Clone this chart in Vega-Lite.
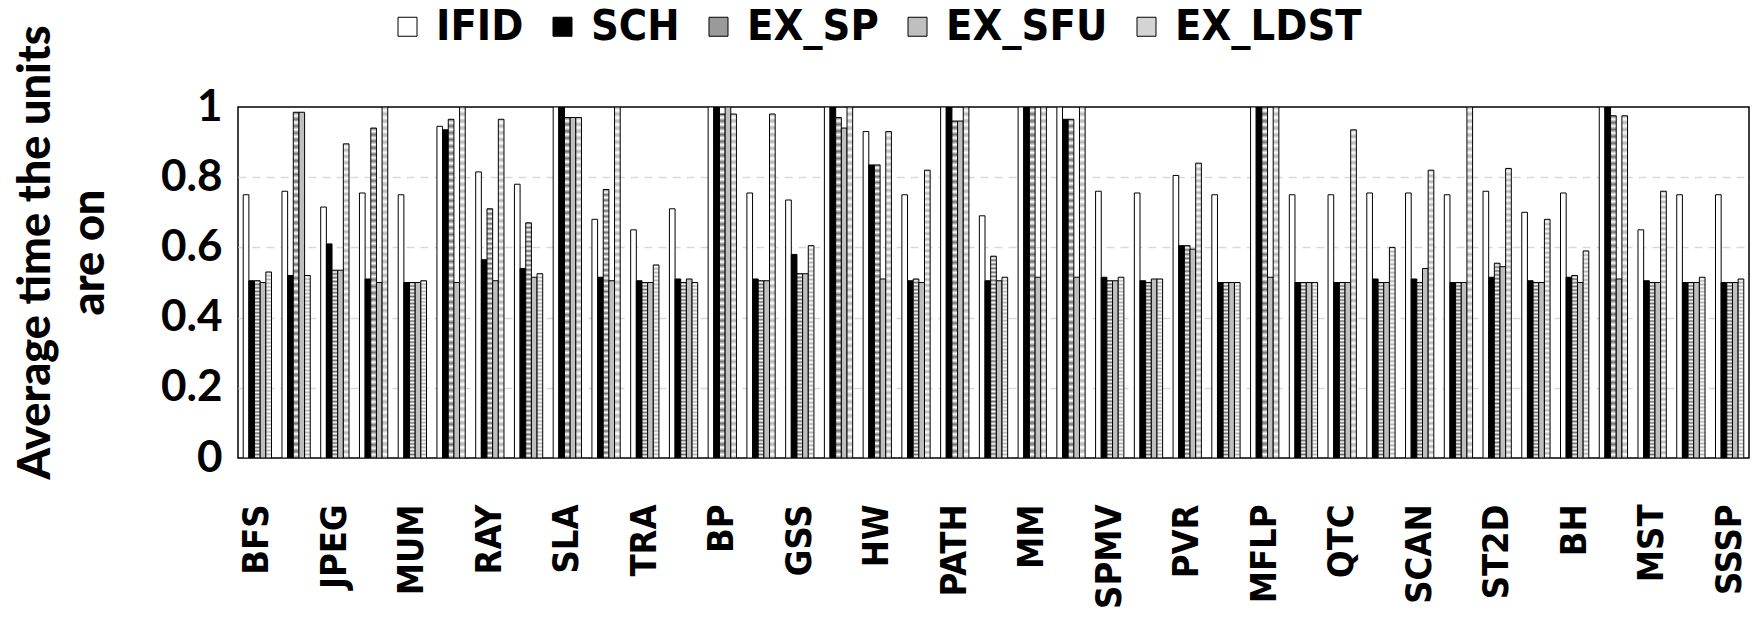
{
  "$schema": "https://vega.github.io/schema/vega-lite/v6.json",
  "width": 1511,
  "height": 351,
  "autosize": {"type": "none"},
  "padding": {"left": 238, "top": 107, "right": 12, "bottom": 162},
  "background": "white",
  "config": {
    "view": {"stroke": "black", "strokeWidth": 1.5},
    "axis": {"labelColor": "black", "titleColor": "black"}
  },
  "data": {"values": [
    {"b":"BFS","u":"IFID","v":0.75},{"b":"BFS","u":"SCH","v":0.505},{"b":"BFS","u":"EX_SP","v":0.505},{"b":"BFS","u":"EX_SFU","v":0.5},{"b":"BFS","u":"EX_LDST","v":0.53},
    {"b":"u1","u":"IFID","v":0.76},{"b":"u1","u":"SCH","v":0.52},{"b":"u1","u":"EX_SP","v":0.985},{"b":"u1","u":"EX_SFU","v":0.985},{"b":"u1","u":"EX_LDST","v":0.52},
    {"b":"JPEG","u":"IFID","v":0.715},{"b":"JPEG","u":"SCH","v":0.61},{"b":"JPEG","u":"EX_SP","v":0.535},{"b":"JPEG","u":"EX_SFU","v":0.535},{"b":"JPEG","u":"EX_LDST","v":0.895},
    {"b":"u2","u":"IFID","v":0.755},{"b":"u2","u":"SCH","v":0.51},{"b":"u2","u":"EX_SP","v":0.94},{"b":"u2","u":"EX_SFU","v":0.5},{"b":"u2","u":"EX_LDST","v":1.0},
    {"b":"MUM","u":"IFID","v":0.75},{"b":"MUM","u":"SCH","v":0.5},{"b":"MUM","u":"EX_SP","v":0.5},{"b":"MUM","u":"EX_SFU","v":0.5},{"b":"MUM","u":"EX_LDST","v":0.505},
    {"b":"u3","u":"IFID","v":0.945},{"b":"u3","u":"SCH","v":0.935},{"b":"u3","u":"EX_SP","v":0.965},{"b":"u3","u":"EX_SFU","v":0.5},{"b":"u3","u":"EX_LDST","v":1.0},
    {"b":"RAY","u":"IFID","v":0.815},{"b":"RAY","u":"SCH","v":0.565},{"b":"RAY","u":"EX_SP","v":0.71},{"b":"RAY","u":"EX_SFU","v":0.505},{"b":"RAY","u":"EX_LDST","v":0.965},
    {"b":"u4","u":"IFID","v":0.78},{"b":"u4","u":"SCH","v":0.54},{"b":"u4","u":"EX_SP","v":0.67},{"b":"u4","u":"EX_SFU","v":0.515},{"b":"u4","u":"EX_LDST","v":0.525},
    {"b":"SLA","u":"IFID","v":1.0},{"b":"SLA","u":"SCH","v":1.0},{"b":"SLA","u":"EX_SP","v":0.97},{"b":"SLA","u":"EX_SFU","v":0.97},{"b":"SLA","u":"EX_LDST","v":0.97},
    {"b":"u5","u":"IFID","v":0.68},{"b":"u5","u":"SCH","v":0.515},{"b":"u5","u":"EX_SP","v":0.765},{"b":"u5","u":"EX_SFU","v":0.505},{"b":"u5","u":"EX_LDST","v":1.0},
    {"b":"TRA","u":"IFID","v":0.65},{"b":"TRA","u":"SCH","v":0.505},{"b":"TRA","u":"EX_SP","v":0.5},{"b":"TRA","u":"EX_SFU","v":0.5},{"b":"TRA","u":"EX_LDST","v":0.55},
    {"b":"u6","u":"IFID","v":0.71},{"b":"u6","u":"SCH","v":0.51},{"b":"u6","u":"EX_SP","v":0.5},{"b":"u6","u":"EX_SFU","v":0.51},{"b":"u6","u":"EX_LDST","v":0.5},
    {"b":"BP","u":"IFID","v":1.0},{"b":"BP","u":"SCH","v":1.0},{"b":"BP","u":"EX_SP","v":0.98},{"b":"BP","u":"EX_SFU","v":1.0},{"b":"BP","u":"EX_LDST","v":0.98},
    {"b":"u7","u":"IFID","v":0.755},{"b":"u7","u":"SCH","v":0.51},{"b":"u7","u":"EX_SP","v":0.505},{"b":"u7","u":"EX_SFU","v":0.505},{"b":"u7","u":"EX_LDST","v":0.98},
    {"b":"GSS","u":"IFID","v":0.735},{"b":"GSS","u":"SCH","v":0.58},{"b":"GSS","u":"EX_SP","v":0.525},{"b":"GSS","u":"EX_SFU","v":0.525},{"b":"GSS","u":"EX_LDST","v":0.605},
    {"b":"u8","u":"IFID","v":1.0},{"b":"u8","u":"SCH","v":1.0},{"b":"u8","u":"EX_SP","v":0.97},{"b":"u8","u":"EX_SFU","v":0.94},{"b":"u8","u":"EX_LDST","v":1.0},
    {"b":"HW","u":"IFID","v":0.93},{"b":"HW","u":"SCH","v":0.835},{"b":"HW","u":"EX_SP","v":0.835},{"b":"HW","u":"EX_SFU","v":0.51},{"b":"HW","u":"EX_LDST","v":0.93},
    {"b":"u9","u":"IFID","v":0.75},{"b":"u9","u":"SCH","v":0.505},{"b":"u9","u":"EX_SP","v":0.51},{"b":"u9","u":"EX_SFU","v":0.5},{"b":"u9","u":"EX_LDST","v":0.82},
    {"b":"PATH","u":"IFID","v":1.0},{"b":"PATH","u":"SCH","v":1.0},{"b":"PATH","u":"EX_SP","v":0.96},{"b":"PATH","u":"EX_SFU","v":0.96},{"b":"PATH","u":"EX_LDST","v":1.0},
    {"b":"u10","u":"IFID","v":0.69},{"b":"u10","u":"SCH","v":0.505},{"b":"u10","u":"EX_SP","v":0.575},{"b":"u10","u":"EX_SFU","v":0.505},{"b":"u10","u":"EX_LDST","v":0.515},
    {"b":"MM","u":"IFID","v":1.0},{"b":"MM","u":"SCH","v":1.0},{"b":"MM","u":"EX_SP","v":1.0},{"b":"MM","u":"EX_SFU","v":0.515},{"b":"MM","u":"EX_LDST","v":1.0},
    {"b":"u11","u":"IFID","v":1.0},{"b":"u11","u":"SCH","v":0.965},{"b":"u11","u":"EX_SP","v":0.965},{"b":"u11","u":"EX_SFU","v":0.515},{"b":"u11","u":"EX_LDST","v":1.0},
    {"b":"SPMV","u":"IFID","v":0.76},{"b":"SPMV","u":"SCH","v":0.515},{"b":"SPMV","u":"EX_SP","v":0.505},{"b":"SPMV","u":"EX_SFU","v":0.505},{"b":"SPMV","u":"EX_LDST","v":0.515},
    {"b":"u12","u":"IFID","v":0.755},{"b":"u12","u":"SCH","v":0.505},{"b":"u12","u":"EX_SP","v":0.5},{"b":"u12","u":"EX_SFU","v":0.51},{"b":"u12","u":"EX_LDST","v":0.51},
    {"b":"PVR","u":"IFID","v":0.805},{"b":"PVR","u":"SCH","v":0.605},{"b":"PVR","u":"EX_SP","v":0.605},{"b":"PVR","u":"EX_SFU","v":0.595},{"b":"PVR","u":"EX_LDST","v":0.84},
    {"b":"u13","u":"IFID","v":0.75},{"b":"u13","u":"SCH","v":0.5},{"b":"u13","u":"EX_SP","v":0.5},{"b":"u13","u":"EX_SFU","v":0.5},{"b":"u13","u":"EX_LDST","v":0.5},
    {"b":"MFLP","u":"IFID","v":1.0},{"b":"MFLP","u":"SCH","v":1.0},{"b":"MFLP","u":"EX_SP","v":1.0},{"b":"MFLP","u":"EX_SFU","v":0.515},{"b":"MFLP","u":"EX_LDST","v":1.0},
    {"b":"u14","u":"IFID","v":0.75},{"b":"u14","u":"SCH","v":0.5},{"b":"u14","u":"EX_SP","v":0.5},{"b":"u14","u":"EX_SFU","v":0.5},{"b":"u14","u":"EX_LDST","v":0.5},
    {"b":"QTC","u":"IFID","v":0.75},{"b":"QTC","u":"SCH","v":0.5},{"b":"QTC","u":"EX_SP","v":0.5},{"b":"QTC","u":"EX_SFU","v":0.5},{"b":"QTC","u":"EX_LDST","v":0.935},
    {"b":"u15","u":"IFID","v":0.755},{"b":"u15","u":"SCH","v":0.51},{"b":"u15","u":"EX_SP","v":0.5},{"b":"u15","u":"EX_SFU","v":0.5},{"b":"u15","u":"EX_LDST","v":0.6},
    {"b":"SCAN","u":"IFID","v":0.755},{"b":"SCAN","u":"SCH","v":0.51},{"b":"SCAN","u":"EX_SP","v":0.5},{"b":"SCAN","u":"EX_SFU","v":0.54},{"b":"SCAN","u":"EX_LDST","v":0.82},
    {"b":"u16","u":"IFID","v":0.75},{"b":"u16","u":"SCH","v":0.5},{"b":"u16","u":"EX_SP","v":0.5},{"b":"u16","u":"EX_SFU","v":0.5},{"b":"u16","u":"EX_LDST","v":1.0},
    {"b":"ST2D","u":"IFID","v":0.76},{"b":"ST2D","u":"SCH","v":0.515},{"b":"ST2D","u":"EX_SP","v":0.555},{"b":"ST2D","u":"EX_SFU","v":0.545},{"b":"ST2D","u":"EX_LDST","v":0.825},
    {"b":"u17","u":"IFID","v":0.7},{"b":"u17","u":"SCH","v":0.505},{"b":"u17","u":"EX_SP","v":0.5},{"b":"u17","u":"EX_SFU","v":0.5},{"b":"u17","u":"EX_LDST","v":0.68},
    {"b":"BH","u":"IFID","v":0.755},{"b":"BH","u":"SCH","v":0.515},{"b":"BH","u":"EX_SP","v":0.52},{"b":"BH","u":"EX_SFU","v":0.5},{"b":"BH","u":"EX_LDST","v":0.59},
    {"b":"u18","u":"IFID","v":1.0},{"b":"u18","u":"SCH","v":1.0},{"b":"u18","u":"EX_SP","v":0.975},{"b":"u18","u":"EX_SFU","v":0.51},{"b":"u18","u":"EX_LDST","v":0.975},
    {"b":"MST","u":"IFID","v":0.65},{"b":"MST","u":"SCH","v":0.505},{"b":"MST","u":"EX_SP","v":0.5},{"b":"MST","u":"EX_SFU","v":0.5},{"b":"MST","u":"EX_LDST","v":0.76},
    {"b":"u19","u":"IFID","v":0.75},{"b":"u19","u":"SCH","v":0.5},{"b":"u19","u":"EX_SP","v":0.5},{"b":"u19","u":"EX_SFU","v":0.5},{"b":"u19","u":"EX_LDST","v":0.515},
    {"b":"SSSP","u":"IFID","v":0.75},{"b":"SSSP","u":"SCH","v":0.5},{"b":"SSSP","u":"EX_SP","v":0.5},{"b":"SSSP","u":"EX_SFU","v":0.5},{"b":"SSSP","u":"EX_LDST","v":0.51}
  ]},
  "mark": {"type": "bar", "stroke": "black", "strokeWidth": 1, "clip": true},
  "encoding": {
    "x": {
      "field": "b", "type": "nominal", "sort": null,
      "scale": {"paddingInner": 0.27, "paddingOuter": 0.135},
      "axis": {
        "values": ["BFS","JPEG","MUM","RAY","SLA","TRA","BP","GSS","HW","PATH","MM","SPMV","PVR","MFLP","QTC","SCAN","ST2D","BH","MST","SSSP"],
        "title": null, "labelAngle": -90, "labelFont": "DejaVu Sans Condensed", "labelFontSize": 36,
        "labelFontWeight": "bold", "labelPadding": 46, "ticks": false, "domain": false,
        "labelOverlap": false, "labelBound": false, "grid": false
      }
    },
    "xOffset": {
      "field": "u", "type": "nominal", "sort": null,
      "scale": {"domain": ["IFID","SCH","EX_SP","EX_SFU","EX_LDST"], "paddingInner": 0, "paddingOuter": 0}
    },
    "y": {
      "field": "v", "type": "quantitative",
      "scale": {"domain": [0, 1], "nice": false},
      "axis": {
        "values": [0, 0.2, 0.4, 0.6, 0.8, 1], "format": "~g",
        "labelFont": "Lato", "labelFontSize": 44, "labelFontWeight": "bold", "labelPadding": 16,
        "ticks": false, "domain": false, "labelOverlap": false,
        "grid": true, "gridDash": [8, 6], "gridColor": "#d9d9d9", "gridWidth": 1.5,
        "gridOpacity": {"condition": {"test": "datum.value <= 0 || datum.value >= 1", "value": 0}, "value": 1},
        "title": ["Average time the units", "are on"],
        "titleFont": "Lato", "titleFontSize": 45, "titleFontWeight": 900,
        "titleX": -225, "titleY": 145, "titleAngle": 270, "titleAlign": "center",
        "titleBaseline": "top", "titleLineHeight": 54
      }
    },
    "fill": {
      "field": "u", "type": "nominal",
      "scale": {"domain": ["IFID","SCH","EX_SP","EX_SFU","EX_LDST"], "range": ["#ffffff","#000000","#9a9a9a","#bfbfbf","#d4d4d4"]},
      "condition": [
        {"test": "datum.u === 'EX_SP'", "value": {"gradient": "linear", "x1": 0, "y1": 0, "x2": 0, "y2": 1, "stops": [
          {"offset":0,"color":"#707070"},{"offset":0.01,"color":"#fff"},{"offset":0.02,"color":"#707070"},{"offset":0.03,"color":"#fff"},{"offset":0.04,"color":"#707070"},{"offset":0.05,"color":"#fff"},{"offset":0.06,"color":"#707070"},{"offset":0.07,"color":"#fff"},{"offset":0.08,"color":"#707070"},{"offset":0.09,"color":"#fff"},
          {"offset":0.1,"color":"#707070"},{"offset":0.11,"color":"#fff"},{"offset":0.12,"color":"#707070"},{"offset":0.13,"color":"#fff"},{"offset":0.14,"color":"#707070"},{"offset":0.15,"color":"#fff"},{"offset":0.16,"color":"#707070"},{"offset":0.17,"color":"#fff"},{"offset":0.18,"color":"#707070"},{"offset":0.19,"color":"#fff"},
          {"offset":0.2,"color":"#707070"},{"offset":0.21,"color":"#fff"},{"offset":0.22,"color":"#707070"},{"offset":0.23,"color":"#fff"},{"offset":0.24,"color":"#707070"},{"offset":0.25,"color":"#fff"},{"offset":0.26,"color":"#707070"},{"offset":0.27,"color":"#fff"},{"offset":0.28,"color":"#707070"},{"offset":0.29,"color":"#fff"},
          {"offset":0.3,"color":"#707070"},{"offset":0.31,"color":"#fff"},{"offset":0.32,"color":"#707070"},{"offset":0.33,"color":"#fff"},{"offset":0.34,"color":"#707070"},{"offset":0.35,"color":"#fff"},{"offset":0.36,"color":"#707070"},{"offset":0.37,"color":"#fff"},{"offset":0.38,"color":"#707070"},{"offset":0.39,"color":"#fff"},
          {"offset":0.4,"color":"#707070"},{"offset":0.41,"color":"#fff"},{"offset":0.42,"color":"#707070"},{"offset":0.43,"color":"#fff"},{"offset":0.44,"color":"#707070"},{"offset":0.45,"color":"#fff"},{"offset":0.46,"color":"#707070"},{"offset":0.47,"color":"#fff"},{"offset":0.48,"color":"#707070"},{"offset":0.49,"color":"#fff"},
          {"offset":0.5,"color":"#707070"},{"offset":0.51,"color":"#fff"},{"offset":0.52,"color":"#707070"},{"offset":0.53,"color":"#fff"},{"offset":0.54,"color":"#707070"},{"offset":0.55,"color":"#fff"},{"offset":0.56,"color":"#707070"},{"offset":0.57,"color":"#fff"},{"offset":0.58,"color":"#707070"},{"offset":0.59,"color":"#fff"},
          {"offset":0.6,"color":"#707070"},{"offset":0.61,"color":"#fff"},{"offset":0.62,"color":"#707070"},{"offset":0.63,"color":"#fff"},{"offset":0.64,"color":"#707070"},{"offset":0.65,"color":"#fff"},{"offset":0.66,"color":"#707070"},{"offset":0.67,"color":"#fff"},{"offset":0.68,"color":"#707070"},{"offset":0.69,"color":"#fff"},
          {"offset":0.7,"color":"#707070"},{"offset":0.71,"color":"#fff"},{"offset":0.72,"color":"#707070"},{"offset":0.73,"color":"#fff"},{"offset":0.74,"color":"#707070"},{"offset":0.75,"color":"#fff"},{"offset":0.76,"color":"#707070"},{"offset":0.77,"color":"#fff"},{"offset":0.78,"color":"#707070"},{"offset":0.79,"color":"#fff"},
          {"offset":0.8,"color":"#707070"},{"offset":0.81,"color":"#fff"},{"offset":0.82,"color":"#707070"},{"offset":0.83,"color":"#fff"},{"offset":0.84,"color":"#707070"},{"offset":0.85,"color":"#fff"},{"offset":0.86,"color":"#707070"},{"offset":0.87,"color":"#fff"},{"offset":0.88,"color":"#707070"},{"offset":0.89,"color":"#fff"},
          {"offset":0.9,"color":"#707070"},{"offset":0.91,"color":"#fff"},{"offset":0.92,"color":"#707070"},{"offset":0.93,"color":"#fff"},{"offset":0.94,"color":"#707070"},{"offset":0.95,"color":"#fff"},{"offset":0.96,"color":"#707070"},{"offset":0.97,"color":"#fff"},{"offset":0.98,"color":"#707070"},{"offset":0.99,"color":"#fff"},
          {"offset":1,"color":"#707070"}
        ]}},
        {"test": "datum.u === 'EX_LDST'", "value": {"gradient": "linear", "x1": 0, "y1": 0, "x2": 0, "y2": 1, "stops": [
          {"offset":0,"color":"#b4b4b4"},{"offset":0.01,"color":"#fff"},{"offset":0.02,"color":"#b4b4b4"},{"offset":0.03,"color":"#fff"},{"offset":0.04,"color":"#b4b4b4"},{"offset":0.05,"color":"#fff"},{"offset":0.06,"color":"#b4b4b4"},{"offset":0.07,"color":"#fff"},{"offset":0.08,"color":"#b4b4b4"},{"offset":0.09,"color":"#fff"},
          {"offset":0.1,"color":"#b4b4b4"},{"offset":0.11,"color":"#fff"},{"offset":0.12,"color":"#b4b4b4"},{"offset":0.13,"color":"#fff"},{"offset":0.14,"color":"#b4b4b4"},{"offset":0.15,"color":"#fff"},{"offset":0.16,"color":"#b4b4b4"},{"offset":0.17,"color":"#fff"},{"offset":0.18,"color":"#b4b4b4"},{"offset":0.19,"color":"#fff"},
          {"offset":0.2,"color":"#b4b4b4"},{"offset":0.21,"color":"#fff"},{"offset":0.22,"color":"#b4b4b4"},{"offset":0.23,"color":"#fff"},{"offset":0.24,"color":"#b4b4b4"},{"offset":0.25,"color":"#fff"},{"offset":0.26,"color":"#b4b4b4"},{"offset":0.27,"color":"#fff"},{"offset":0.28,"color":"#b4b4b4"},{"offset":0.29,"color":"#fff"},
          {"offset":0.3,"color":"#b4b4b4"},{"offset":0.31,"color":"#fff"},{"offset":0.32,"color":"#b4b4b4"},{"offset":0.33,"color":"#fff"},{"offset":0.34,"color":"#b4b4b4"},{"offset":0.35,"color":"#fff"},{"offset":0.36,"color":"#b4b4b4"},{"offset":0.37,"color":"#fff"},{"offset":0.38,"color":"#b4b4b4"},{"offset":0.39,"color":"#fff"},
          {"offset":0.4,"color":"#b4b4b4"},{"offset":0.41,"color":"#fff"},{"offset":0.42,"color":"#b4b4b4"},{"offset":0.43,"color":"#fff"},{"offset":0.44,"color":"#b4b4b4"},{"offset":0.45,"color":"#fff"},{"offset":0.46,"color":"#b4b4b4"},{"offset":0.47,"color":"#fff"},{"offset":0.48,"color":"#b4b4b4"},{"offset":0.49,"color":"#fff"},
          {"offset":0.5,"color":"#b4b4b4"},{"offset":0.51,"color":"#fff"},{"offset":0.52,"color":"#b4b4b4"},{"offset":0.53,"color":"#fff"},{"offset":0.54,"color":"#b4b4b4"},{"offset":0.55,"color":"#fff"},{"offset":0.56,"color":"#b4b4b4"},{"offset":0.57,"color":"#fff"},{"offset":0.58,"color":"#b4b4b4"},{"offset":0.59,"color":"#fff"},
          {"offset":0.6,"color":"#b4b4b4"},{"offset":0.61,"color":"#fff"},{"offset":0.62,"color":"#b4b4b4"},{"offset":0.63,"color":"#fff"},{"offset":0.64,"color":"#b4b4b4"},{"offset":0.65,"color":"#fff"},{"offset":0.66,"color":"#b4b4b4"},{"offset":0.67,"color":"#fff"},{"offset":0.68,"color":"#b4b4b4"},{"offset":0.69,"color":"#fff"},
          {"offset":0.7,"color":"#b4b4b4"},{"offset":0.71,"color":"#fff"},{"offset":0.72,"color":"#b4b4b4"},{"offset":0.73,"color":"#fff"},{"offset":0.74,"color":"#b4b4b4"},{"offset":0.75,"color":"#fff"},{"offset":0.76,"color":"#b4b4b4"},{"offset":0.77,"color":"#fff"},{"offset":0.78,"color":"#b4b4b4"},{"offset":0.79,"color":"#fff"},
          {"offset":0.8,"color":"#b4b4b4"},{"offset":0.81,"color":"#fff"},{"offset":0.82,"color":"#b4b4b4"},{"offset":0.83,"color":"#fff"},{"offset":0.84,"color":"#b4b4b4"},{"offset":0.85,"color":"#fff"},{"offset":0.86,"color":"#b4b4b4"},{"offset":0.87,"color":"#fff"},{"offset":0.88,"color":"#b4b4b4"},{"offset":0.89,"color":"#fff"},
          {"offset":0.9,"color":"#b4b4b4"},{"offset":0.91,"color":"#fff"},{"offset":0.92,"color":"#b4b4b4"},{"offset":0.93,"color":"#fff"},{"offset":0.94,"color":"#b4b4b4"},{"offset":0.95,"color":"#fff"},{"offset":0.96,"color":"#b4b4b4"},{"offset":0.97,"color":"#fff"},{"offset":0.98,"color":"#b4b4b4"},{"offset":0.99,"color":"#fff"},
          {"offset":1,"color":"#b4b4b4"}
        ]}}
      ],
      "legend": {
        "title": null, "orient": "none", "legendX": 148, "legendY": -102, "direction": "horizontal",
        "symbolType": "square", "symbolSize": 361, "symbolStrokeColor": "black", "symbolStrokeWidth": 1,
        "labelFont": "DejaVu Sans Condensed", "labelFontSize": 43, "labelFontWeight": "bold", "labelColor": "black",
        "labelOffset": 7, "columnPadding": 17, "labelLimit": 400, "padding": 0,
        "encode": {"symbols": {"update": {
          "opacity": {"value": 1},
          "stroke": {"value": "black"},
          "fill": {"signal": "datum.value === 'IFID' ? '#ffffff' : datum.value === 'SCH' ? '#000000' : datum.value === 'EX_SFU' ? '#bfbfbf' : datum.value === 'EX_SP' ? {gradient: 'linear', x1: 0, y1: 1, x2: 1, y2: 0, stops: [{offset: 0, color: '#fff'}, {offset: 0.083, color: '#666'}, {offset: 0.167, color: '#fff'}, {offset: 0.25, color: '#666'}, {offset: 0.333, color: '#fff'}, {offset: 0.417, color: '#666'}, {offset: 0.5, color: '#fff'}, {offset: 0.583, color: '#666'}, {offset: 0.667, color: '#fff'}, {offset: 0.75, color: '#666'}, {offset: 0.833, color: '#fff'}, {offset: 0.917, color: '#666'}, {offset: 1, color: '#fff'}]} : {gradient: 'linear', x1: 0, y1: 0, x2: 0, y2: 1, stops: [{offset: 0, color: '#fff'}, {offset: 0.14, color: '#fff'}, {offset: 0.14, color: '#bbb'}, {offset: 0.28, color: '#bbb'}, {offset: 0.28, color: '#fff'}, {offset: 0.43, color: '#fff'}, {offset: 0.43, color: '#bbb'}, {offset: 0.57, color: '#bbb'}, {offset: 0.57, color: '#fff'}, {offset: 0.71, color: '#fff'}, {offset: 0.71, color: '#bbb'}, {offset: 0.86, color: '#bbb'}, {offset: 0.86, color: '#fff'}, {offset: 1, color: '#fff'}]}"}
        }}}
      }
    }
  }
}
